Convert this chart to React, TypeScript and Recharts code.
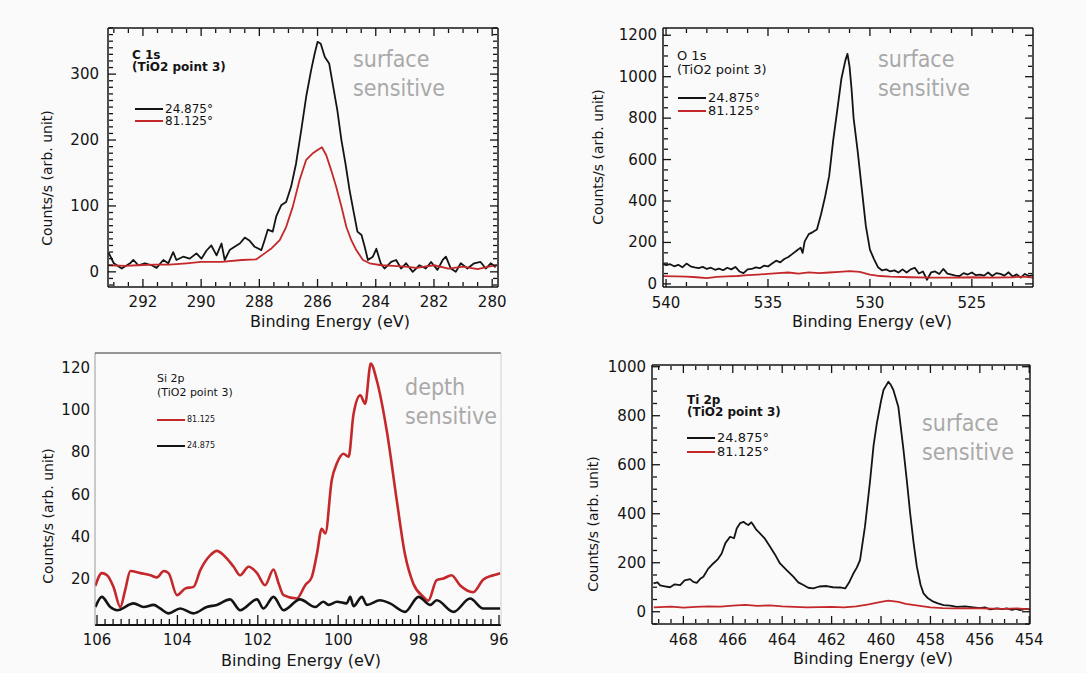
import React from 'react';
import { LineChart, Line, XAxis, YAxis, Legend } from 'recharts';

const FONT = "'DejaVu Sans', 'Liberation Sans', sans-serif";
const TAG_FONT = "'DejaVu Sans Condensed', 'DejaVu Sans', sans-serif";
const INK = '#141414';
const RED = '#c4282b';
const GREY = '#a9a9a9';
const PAGE_BG = '#fafafa';

// ---- C 1s ----
const c1sBlackE = [293.18, 293.0, 292.73, 292.44, 292.33, 292.16, 291.93, 291.7, 291.53, 291.3, 291.13, 290.96, 290.85, 290.62, 290.39, 290.16, 289.99, 289.82, 289.65, 289.47, 289.3, 289.19, 289.02, 288.85, 288.67, 288.5, 288.33, 288.16, 287.93, 287.82, 287.71, 287.54, 287.42, 287.25, 287.08, 286.91, 286.74, 286.56, 286.39, 286.22, 286.1, 286.0, 285.89, 285.75, 285.6, 285.47, 285.32, 285.18, 285.04, 284.9, 284.76, 284.63, 284.49, 284.38, 284.27, 284.1, 283.98, 283.83, 283.7, 283.47, 283.3, 283.13, 282.96, 282.73, 282.5, 282.28, 282.1, 281.88, 281.7, 281.59, 281.42, 281.25, 281.08, 280.85, 280.62, 280.4, 280.22, 280.05, 279.88];
const c1sBlackCounts = [29, 13, 5, 13, 18, 10, 13, 10, 6, 18, 13, 30, 18, 23, 20, 28, 20, 32, 40, 25, 43, 18, 33, 38, 43, 52, 47, 38, 33, 48, 64, 61, 84, 101, 106, 129, 164, 215, 266, 306, 331, 349, 346, 326, 316, 283, 245, 200, 164, 124, 91, 61, 56, 38, 18, 23, 35, 13, 5, 15, 18, 5, 13, 0, 10, 5, 15, 3, 18, 23, 5, 0, 13, 5, 13, 15, 5, 13, 7];
const c1sRedE = [293.2, 292.6, 292.2, 291.6, 291.1, 290.5, 290.0, 289.3, 288.6, 288.1, 287.82, 287.6, 287.3, 287.08, 286.85, 286.62, 286.39, 286.16, 286.0, 285.85, 285.7, 285.53, 285.36, 285.18, 285.01, 284.84, 284.67, 284.44, 284.21, 283.81, 283.4, 283.0, 282.6, 282.0, 281.5, 281.0, 280.5, 280.0, 279.83];
const c1sRedCounts = [10, 9, 10, 11, 11, 13, 15, 15, 18, 19, 28, 35, 48, 68, 99, 139, 170, 180, 185, 189, 177, 154, 129, 99, 68, 48, 33, 18, 13, 10, 9, 8, 6, 10, 5, 8, 4, 9, 10];

// ---- O 1s ----
const o1sBlackE = [540.2, 540.0, 539.8, 539.6, 539.4, 539.2, 539.0, 538.8, 538.6, 538.4, 538.2, 538.0, 537.8, 537.6, 537.4, 537.2, 537.0, 536.8, 536.6, 536.4, 536.2, 536.0, 535.8, 535.6, 535.4, 535.2, 535.0, 534.8, 534.6, 534.4, 534.2, 534.0, 533.8, 533.6, 533.4, 533.3, 533.2, 533.0, 532.8, 532.6, 532.4, 532.2, 532.0, 531.8, 531.6, 531.4, 531.2, 531.1, 531.0, 530.9, 530.8, 530.6, 530.4, 530.2, 530.0, 529.8, 529.6, 529.4, 529.2, 529.0, 528.8, 528.6, 528.4, 528.2, 528.0, 527.8, 527.6, 527.4, 527.2, 527.0, 526.8, 526.6, 526.4, 526.2, 526.0, 525.8, 525.6, 525.4, 525.2, 525.0, 524.8, 524.6, 524.4, 524.2, 524.0, 523.8, 523.6, 523.4, 523.2, 523.0, 522.8, 522.6, 522.4, 522.2, 522.0];
const o1sBlackCounts = [100, 90, 95, 85, 92, 80, 98, 85, 80, 76, 82, 72, 78, 68, 74, 66, 78, 70, 82, 60, 52, 70, 72, 80, 76, 88, 84, 98, 112, 104, 120, 130, 145, 160, 175, 150, 205, 240, 250, 262, 335, 420, 520, 694, 840, 990, 1080, 1110, 1050, 940, 800, 640, 460, 280, 165, 120, 80, 65, 70, 60, 65, 55, 70, 55, 70, 78, 50, 60, 20, 55, 60, 48, 72, 50, 45, 40, 38, 52, 45, 55, 42, 45, 40, 55, 38, 52, 48, 40, 56, 36, 46, 30, 48, 38, 42];
const o1sRedE = [540.2, 539.5, 539.0, 538.5, 538.0, 537.5, 537.0, 536.5, 536.0, 535.5, 535.0, 534.5, 534.0, 533.5, 533.0, 532.5, 532.0, 531.5, 531.0, 530.5, 530.0, 529.5, 529.0, 528.0, 527.0, 526.0, 525.0, 524.0, 523.0, 522.5, 522.0];
const o1sRedCounts = [38, 36, 35, 32, 28, 34, 36, 38, 42, 45, 48, 52, 55, 50, 56, 52, 55, 58, 62, 58, 45, 38, 35, 32, 30, 30, 32, 30, 32, 35, 30];

// ---- Si 2p ----
const si2pRedE = [106.04, 105.88, 105.75, 105.59, 105.42, 105.3, 105.17, 104.92, 104.67, 104.51, 104.34, 104.22, 104.01, 103.8, 103.6, 103.43, 103.18, 103.02, 102.85, 102.6, 102.44, 102.23, 102.02, 101.82, 101.61, 101.48, 101.36, 101.03, 100.82, 100.66, 100.53, 100.41, 100.32, 100.16, 100.03, 99.87, 99.74, 99.62, 99.45, 99.33, 99.19, 99.04, 98.79, 98.54, 98.34, 98.13, 97.88, 97.76, 97.55, 97.38, 97.18, 96.97, 96.64, 96.39, 96.14, 95.97];
const si2pRedCounts = [17, 23, 22, 16.5, 7, 15, 24, 23, 22, 21, 24, 23, 12.6, 15.8, 16.5, 24.4, 31.5, 33.5, 31.5, 26, 22, 26, 23, 17.3, 24.7, 18, 12.6, 11, 17.3, 21, 32, 44, 41.7, 67, 75, 79.4, 78, 98, 107, 103, 122, 114, 90, 57, 32, 18, 11.8, 10, 19.7, 20.5, 22, 17.3, 14, 20, 22, 23];
const si2pBlackE = [106.04, 105.88, 105.67, 105.5, 105.09, 104.84, 104.59, 104.43, 104.22, 103.93, 103.6, 103.27, 103.02, 102.69, 102.44, 102.02, 101.86, 101.61, 101.36, 100.95, 100.57, 100.37, 100.24, 100.03, 99.79, 99.7, 99.62, 99.41, 99.29, 98.96, 98.71, 98.34, 98.0, 97.71, 97.55, 97.13, 96.72, 96.39, 95.97];
const si2pBlackCounts = [7, 11.8, 7, 5.5, 8.7, 7, 8, 6.3, 4, 6.3, 4, 7, 8, 10.6, 5.5, 10.6, 6.3, 11.8, 5.5, 10.6, 7, 9.5, 8, 9.5, 8.7, 11.8, 7.4, 11.8, 8, 10.2, 8.7, 4.7, 11.8, 8, 10.2, 4.7, 11, 6.3, 6.3];

// ---- Ti 2p ----
const ti2pBlackE = [469.21, 469.05, 468.94, 468.75, 468.54, 468.35, 468.13, 467.95, 467.73, 467.6, 467.46, 467.3, 467.19, 467.0, 466.79, 466.6, 466.45, 466.3, 466.11, 465.95, 465.84, 465.7, 465.57, 465.45, 465.37, 465.25, 465.17, 465.05, 464.9, 464.7, 464.49, 464.3, 464.09, 463.8, 463.55, 463.35, 463.14, 462.95, 462.74, 462.5, 462.2, 461.95, 461.66, 461.45, 461.3, 461.12, 460.98, 460.85, 460.65, 460.44, 460.3, 460.17, 460.0, 459.9, 459.7, 459.6, 459.5, 459.3, 459.09, 458.95, 458.82, 458.68, 458.55, 458.4, 458.28, 458.1, 457.88, 457.7, 457.47, 457.2, 456.93, 456.6, 456.26, 456.0, 455.8, 455.58, 455.3, 455.1, 454.91, 454.7, 454.55, 454.37, 454.15, 453.97];
const ti2pBlackCounts = [116, 120, 108, 104, 100, 112, 109, 128, 133, 122, 118, 136, 143, 175, 197, 215, 238, 280, 306, 300, 340, 362, 367, 358, 354, 365, 354, 335, 320, 298, 265, 235, 197, 168, 143, 120, 109, 98, 95, 103, 105, 100, 99, 95, 118, 156, 180, 211, 347, 537, 680, 769, 860, 905, 939, 925, 905, 837, 660, 530, 401, 280, 184, 110, 75, 55, 41, 34, 27, 25, 20, 22, 18, 15, 18, 10, 14, 11, 14, 8, 12, 7, 12, 10];
const ti2pRedE = [469.2, 468.5, 468.0, 467.5, 467.0, 466.5, 466.0, 465.5, 465.0, 464.5, 464.0, 463.5, 463.0, 462.5, 462.0, 461.5, 461.0, 460.5, 460.0, 459.7, 459.3, 459.0, 458.5, 458.0, 457.5, 457.0, 456.0, 455.0, 454.5, 454.0];
const ti2pRedCounts = [18, 21, 17, 20, 22, 21, 25, 28, 24, 26, 22, 20, 18, 19, 20, 18, 22, 30, 40, 45, 40, 32, 25, 18, 15, 14, 14, 12, 14, 10];

// tick labels
const c1sXTicks = [280, 282, 284, 286, 288, 290, 292];
const c1sYTicks = [0, 100, 200, 300];
const o1sXTicks = [525, 530, 535, 540];
const o1sYTicks = [0, 200, 400, 600, 800, 1000, 1200];
const si2pXTicks = [96, 98, 100, 102, 104, 106];
const si2pYTicks = [20, 40, 60, 80, 100, 120];
const ti2pXTicks = [454, 456, 458, 460, 462, 464, 466, 468];
const ti2pYTicks = [0, 200, 400, 600, 800, 1000];

const steps = (from: number, to: number, step: number) => {
  const out: number[] = [];
  for (let k = 0; from + k * step <= to + 1e-9; k++) out.push(+(from + k * step).toFixed(3));
  return out;
};
const minorOnly = (all: number[], majors: number[]) => all.filter((v) => !majors.some((m) => Math.abs(m - v) < 1e-6));
const pts = (e: number[], v: number[]) => e.map((x, i) => ({ e: x, v: v[i] }));

type Series = { name: string; color: string; e: number[]; v: number[]; width: number; curve: 'linear' | 'monotone' };

type Panel = {
  left: number; top: number; width: number; height: number;
  margin: { top: number; right: number; bottom: number };
  yAxisWidth: number;
  xDomain: [number, number]; yDomain: [number, number];
  xMajor: number[]; xMinor: number[]; yMajor: number[]; yMinor: number[];
  frame: { bottom: string; top: string; left: string; right: string; width: number; bottomWidth: number };
  boxTicks: boolean;
  majorLen: number; minorLen: number;
  tickFont: number; xTickDy: number; yTickGap: number;
  xLabel: { x: number; y: number }; yLabel: { x: number; y: number };
  title: string[]; titleBold: boolean; titleSize: number; titleX: number; titleY: number; titleDy: number;
  legend: { x: number; y: number; dy: number; len: number; size: number };
  tag: string[]; tagX: number; tagY: number; tagDy: number;
  series: Series[];
};

const Notes = ({ p, payload }: { p: Panel; payload?: any[] }) => {
  const items = p.series.map((s) => {
    const hit = (payload || []).find((it: any) => it.value === s.name);
    return { value: s.name, color: hit ? hit.color : s.color };
  });
  return (
    <div style={{ position: 'relative', width: p.width, height: p.height, fontFamily: FONT, color: INK, pointerEvents: 'none' }}>
      {p.title.map((t, i) => (
        <div key={t} style={{ position: 'absolute', left: p.titleX, top: p.titleY + i * p.titleDy - 8, lineHeight: '16px', fontSize: p.titleSize, fontWeight: p.titleBold ? 700 : 400, whiteSpace: 'pre' }}>
          {t}
        </div>
      ))}
      {items.map((it, i) => (
        <div key={it.value} style={{ position: 'absolute', left: p.legend.x, top: p.legend.y + i * p.legend.dy - 6, height: 12, lineHeight: '12px', display: 'flex', alignItems: 'center', whiteSpace: 'pre' }}>
          <span style={{ display: 'inline-block', width: p.legend.len, borderTop: `2px solid ${it.color}` }} />
          <span style={{ fontSize: p.legend.size, marginLeft: 2 }}>{it.value}</span>
        </div>
      ))}
      {p.tag.map((t, i) => (
        <div key={t} style={{ position: 'absolute', left: p.tagX, top: p.tagY + i * p.tagDy - 14, lineHeight: '28px', fontSize: 23, fontFamily: TAG_FONT, color: GREY }}>
          {t}
        </div>
      ))}
    </div>
  );
};

// mirrored axes only carry tick marks; their labels stay empty
const noLabel = () => <g />;

const SpectrumPanel = ({ p }: { p: Panel }) => {
  const tickLine = { stroke: INK, strokeWidth: 1.3 };
  const bottomLabel = (props: any) => (
    <text x={props.x} y={props.y + p.xTickDy} textAnchor="middle" dominantBaseline="central" fontFamily={FONT} fontSize={p.tickFont} fill={INK}>
      {props.payload.value}
    </text>
  );
  const leftLabel = (props: any) => (
    <text x={props.x - p.yTickGap} y={props.y} textAnchor="end" dominantBaseline="central" fontFamily={FONT} fontSize={p.tickFont} fill={INK}>
      {props.payload.value}
    </text>
  );
  const xShared = { type: 'number' as const, dataKey: 'e', domain: p.xDomain, reversed: true, allowDataOverflow: true, interval: 0 as const, stroke: INK };
  const yShared = { type: 'number' as const, domain: p.yDomain, allowDataOverflow: true, interval: 0 as const, stroke: INK };
  const marks = (len: number) => ({ mirror: true, tickSize: len, tickMargin: 0, tick: noLabel, tickLine });

  return (
    <div style={{ position: 'absolute', left: p.left, top: p.top, width: p.width, height: p.height }}>
      <LineChart width={p.width} height={p.height} margin={{ top: p.margin.top, right: p.margin.right, bottom: p.margin.bottom, left: 0 }}>
        {/* labelled axes that carry the data */}
        <XAxis
          xAxisId="b" {...xShared} ticks={p.xMajor} tickSize={0} tickMargin={0} height={40} tickLine={false}
          axisLine={{ stroke: p.frame.bottom, strokeWidth: p.frame.bottomWidth }}
          tick={bottomLabel}
          label={{
            content: () => (
              <text x={p.xLabel.x} y={p.xLabel.y} textAnchor="middle" dominantBaseline="central" fontFamily={FONT} fontSize={16} fill={INK}>
                Binding Energy (eV)
              </text>
            ),
          }}
        />
        <YAxis
          yAxisId="l" {...yShared} ticks={p.yMajor} tickSize={0} tickMargin={0} width={p.yAxisWidth} tickLine={false}
          axisLine={{ stroke: p.frame.left, strokeWidth: p.frame.width }}
          tick={leftLabel}
          label={{
            content: () => (
              <text
                x={p.yLabel.x} y={p.yLabel.y} textAnchor="middle" dominantBaseline="central"
                transform={`rotate(-90 ${p.yLabel.x} ${p.yLabel.y})`} fontFamily={FONT} fontSize={14} fill={INK}
              >
                Counts/s (arb. unit)
              </text>
            ),
          }}
        />

        {/* inward tick marks on the frame */}
        <XAxis xAxisId="bM" {...xShared} ticks={p.xMajor} height={1} axisLine={false} {...marks(p.majorLen)} />
        <XAxis xAxisId="bm" {...xShared} ticks={p.xMinor} height={1} axisLine={false} {...marks(p.minorLen)} />
        {p.boxTicks ? (
          <XAxis xAxisId="tM" {...xShared} orientation="top" ticks={p.xMajor} height={1} axisLine={{ stroke: p.frame.top, strokeWidth: p.frame.width }} {...marks(p.majorLen)} />
        ) : (
          <XAxis xAxisId="tM" {...xShared} orientation="top" mirror ticks={p.xMajor} height={1} tick={noLabel} tickLine={false} axisLine={{ stroke: p.frame.top, strokeWidth: p.frame.width }} />
        )}
        {p.boxTicks && <XAxis xAxisId="tm" {...xShared} orientation="top" ticks={p.xMinor} height={1} axisLine={false} {...marks(p.minorLen)} />}
        {p.boxTicks && <YAxis yAxisId="lM" {...yShared} ticks={p.yMajor} width={1} axisLine={false} {...marks(p.majorLen)} />}
        {p.boxTicks && <YAxis yAxisId="lm" {...yShared} ticks={p.yMinor} width={1} axisLine={false} {...marks(p.minorLen)} />}
        {p.boxTicks ? (
          <YAxis yAxisId="rM" {...yShared} orientation="right" ticks={p.yMajor} width={1} axisLine={{ stroke: p.frame.right, strokeWidth: p.frame.width }} {...marks(p.majorLen)} />
        ) : (
          <YAxis yAxisId="rM" {...yShared} orientation="right" mirror ticks={p.yMajor} width={1} tick={noLabel} tickLine={false} axisLine={{ stroke: p.frame.right, strokeWidth: p.frame.width }} />
        )}
        {p.boxTicks && <YAxis yAxisId="rm" {...yShared} orientation="right" ticks={p.yMinor} width={1} axisLine={false} {...marks(p.minorLen)} />}

        {p.series.map((s) => (
          <Line
            key={s.name} xAxisId="b" yAxisId="l" name={s.name} data={pts(s.e, s.v)} dataKey="v"
            type={s.curve} stroke={s.color} strokeWidth={s.width} strokeLinejoin="round"
            dot={false} activeDot={false} isAnimationActive={false}
          />
        ))}
        <Legend
          layout="horizontal" verticalAlign="middle" align="center"
          wrapperStyle={{ left: 0, top: 0, width: p.width, height: p.height }}
          content={(props: any) => <Notes p={p} payload={props.payload} />}
        />
      </LineChart>
    </div>
  );
};

const boxFrame = { bottom: INK, top: INK, left: INK, right: INK, width: 1.5, bottomWidth: 1.5 };

const panels: Panel[] = [
  {
    left: 0, top: 0, width: 540, height: 340,
    margin: { top: 28, right: 42, bottom: 13 }, yAxisWidth: 108,
    xDomain: [279.8, 293.2], yDomain: [-23, 370],
    xMajor: c1sXTicks, xMinor: minorOnly(steps(280, 293, 0.5), c1sXTicks),
    yMajor: c1sYTicks, yMinor: minorOnly(steps(-20, 370, 10), c1sYTicks),
    frame: boxFrame, boxTicks: true, majorLen: 8, minorLen: 4,
    tickFont: 15, xTickDy: 15, yTickGap: 9,
    xLabel: { x: 330, y: 321 }, yLabel: { x: 47, y: 178 },
    title: ['C 1s', '(TiO2 point 3)'], titleBold: true, titleSize: 12, titleX: 132, titleY: 55, titleDy: 12,
    legend: { x: 135, y: 109, dy: 12, len: 28, size: 12 },
    tag: ['surface', 'sensitive'], tagX: 353, tagY: 59, tagDy: 29,
    series: [
      { name: '24.875°', color: INK, e: c1sBlackE, v: c1sBlackCounts, width: 1.8, curve: 'linear' },
      { name: '81.125°', color: RED, e: c1sRedE, v: c1sRedCounts, width: 1.8, curve: 'linear' },
    ],
  },
  {
    left: 540, top: 0, width: 546, height: 340,
    margin: { top: 28, right: 53, bottom: 13 }, yAxisWidth: 123,
    xDomain: [522, 540.15], yDomain: [-15, 1235],
    xMajor: o1sXTicks, xMinor: minorOnly(steps(523, 540, 1), o1sXTicks),
    yMajor: o1sYTicks, yMinor: minorOnly(steps(0, 1200, 50), o1sYTicks),
    frame: boxFrame, boxTicks: true, majorLen: 8, minorLen: 4,
    tickFont: 15, xTickDy: 16, yTickGap: 6,
    xLabel: { x: 332, y: 321 }, yLabel: { x: 58, y: 157 },
    title: ['O 1s', '(TiO2 point 3)'], titleBold: false, titleSize: 13, titleX: 137, titleY: 56, titleDy: 14,
    legend: { x: 138, y: 98, dy: 13, len: 28, size: 13 },
    tag: ['surface', 'sensitive'], tagX: 338, tagY: 59, tagDy: 29,
    series: [
      { name: '24.875°', color: INK, e: o1sBlackE, v: o1sBlackCounts, width: 1.8, curve: 'linear' },
      { name: '81.125°', color: RED, e: o1sRedE, v: o1sRedCounts, width: 1.8, curve: 'linear' },
    ],
  },
  {
    left: 0, top: 340, width: 540, height: 333,
    margin: { top: 13, right: 39, bottom: 8 }, yAxisWidth: 95,
    xDomain: [95.95, 106.05], yDomain: [-1.5, 127],
    xMajor: si2pXTicks, xMinor: minorOnly(steps(96, 106, 0.2), si2pXTicks),
    yMajor: si2pYTicks, yMinor: [],
    frame: { bottom: INK, top: '#333', left: '#9a9a9a', right: '#d0d0d0', width: 1, bottomWidth: 2 },
    boxTicks: false, majorLen: 10, minorLen: 5,
    tickFont: 15, xTickDy: 15, yTickGap: 5,
    xLabel: { x: 301, y: 320 }, yLabel: { x: 48, y: 176 },
    title: ['Si 2p', '(TiO2 point 3)'], titleBold: false, titleSize: 11, titleX: 157, titleY: 39, titleDy: 14,
    legend: { x: 157, y: 80, dy: 26, len: 28, size: 8 },
    tag: ['depth', 'sensitive'], tagX: 405, tagY: 47, tagDy: 29,
    series: [
      { name: '81.125', color: RED, e: si2pRedE, v: si2pRedCounts, width: 2.6, curve: 'monotone' },
      { name: '24.875', color: INK, e: si2pBlackE, v: si2pBlackCounts, width: 2.6, curve: 'monotone' },
    ],
  },
  {
    left: 540, top: 340, width: 546, height: 333,
    margin: { top: 25, right: 56, bottom: 9 }, yAxisWidth: 112,
    xDomain: [453.97, 469.27], yDomain: [-50, 1007],
    xMajor: ti2pXTicks, xMinor: minorOnly(steps(454, 469, 0.5), ti2pXTicks),
    yMajor: ti2pYTicks, yMinor: minorOnly(steps(-50, 1000, 50), ti2pYTicks),
    frame: boxFrame, boxTicks: true, majorLen: 8, minorLen: 4,
    tickFont: 15, xTickDy: 16, yTickGap: 6,
    xLabel: { x: 333, y: 318 }, yLabel: { x: 53, y: 184 },
    title: ['Ti 2p', '(TiO2 point 3)'], titleBold: true, titleSize: 12, titleX: 147, titleY: 60, titleDy: 12,
    legend: { x: 147, y: 98, dy: 14, len: 28, size: 13 },
    tag: ['surface', 'sensitive'], tagX: 382, tagY: 83, tagDy: 29,
    series: [
      { name: '24.875°', color: INK, e: ti2pBlackE, v: ti2pBlackCounts, width: 1.8, curve: 'linear' },
      { name: '81.125°', color: RED, e: ti2pRedE, v: ti2pRedCounts, width: 1.8, curve: 'linear' },
    ],
  },
];

export default function App() {
  return (
    <div style={{ position: 'absolute', left: 0, top: 0, width: 1086, height: 673, background: PAGE_BG, overflow: 'hidden' }}>
      {panels.map((p) => (
        <SpectrumPanel key={p.title[0]} p={p} />
      ))}
    </div>
  );
}
